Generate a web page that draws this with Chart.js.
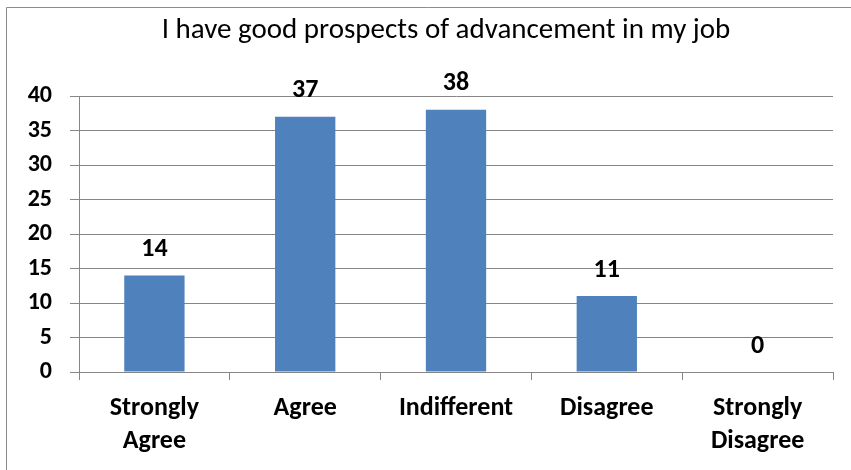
<!DOCTYPE html>
<html>
<head>
<meta charset="utf-8">
<script src="https://cdn.jsdelivr.net/npm/chart.js@4/dist/chart.umd.min.js"></script>
<style>
  html, body { margin: 0; padding: 0; background: #fff; }
  #wrap { width: 851px; height: 470px; }
</style>
</head>
<body>
<div id="wrap"><canvas id="chartCanvas" width="851" height="470"></canvas></div>
<script>
const titleText = "I have good prospects of advancement in my job";
const categories = [["Strongly", "Agree"], "Agree", "Indifferent", "Disagree", ["Strongly", "Disagree"]];
const responses = [14, 37, 38, 11, 0];
const yTicks = [0, 5, 10, 15, 20, 25, 30, 35, 40];

const FONT = "Carlito, Calibri, 'Liberation Sans', Arial, sans-serif";

// value labels above the bars
const barLabels = {
  id: "barLabels",
  afterDatasetsDraw(chart) {
    const ctx = chart.ctx;
    const meta = chart.getDatasetMeta(0);
    ctx.save();
    ctx.font = "bold 26px " + FONT;
    ctx.fillStyle = "#000";
    ctx.textAlign = "center";
    ctx.textBaseline = "middle";
    meta.data.forEach((bar, i) => {
      ctx.fillText(String(responses[i]), bar.x, bar.y - 26);
    });
    ctx.restore();
  },
};

// title + outer frame (frame only shows on top and left edges)
const decor = {
  id: "decor",
  afterDraw(chart) {
    const ctx = chart.ctx;
    ctx.save();
    ctx.strokeStyle = "#8c8c8c";
    ctx.lineWidth = 1;
    ctx.beginPath();
    ctx.moveTo(6.5, 470);
    ctx.lineTo(6.5, 7.5);
    ctx.lineTo(851, 7.5);
    ctx.stroke();
    ctx.font = "29px " + FONT;
    ctx.fillStyle = "#000";
    ctx.textAlign = "center";
    ctx.textBaseline = "alphabetic";
    ctx.fillText(titleText, 446, 38);
    ctx.restore();
  },
};

const ctx = document.getElementById("chartCanvas").getContext("2d");
new Chart(ctx, {
  type: "bar",
  data: {
    labels: categories,
    datasets: [
      {
        data: responses,
        backgroundColor: "#4F81BD",
        barPercentage: 0.8,
        categoryPercentage: 0.5,
      },
    ],
  },
  options: {
    responsive: false,
    animation: false,
    layout: { padding: { left: 10, right: 18, top: 96, bottom: 0 } },
    plugins: {
      legend: { display: false },
      tooltip: { enabled: false },
      title: { display: false },
    },
    scales: {
      x: {
        grid: {
          drawOnChartArea: false,
          drawTicks: true,
          tickLength: 8,
          tickColor: "#868686",
        },
        border: { display: true, color: "#868686" },
        ticks: {
          color: "#000",
          padding: 12,
          maxRotation: 0,
          autoSkip: false,
          font: { family: FONT, size: 26, weight: "bold", lineHeight: 1.27 },
        },
        afterFit(scale) {
          scale.height = 98;
        },
      },
      y: {
        min: 0,
        max: 40,
        afterBuildTicks(scale) {
          scale.ticks = yTicks.map((v) => ({ value: v }));
        },
        grid: {
          color: "#868686",
          drawTicks: true,
          tickLength: 9,
          tickColor: "#868686",
        },
        border: { display: true, color: "#868686" },
        ticks: {
          color: "#000",
          padding: 18,
          font: { family: FONT, size: 24, weight: "bold" },
        },
        afterFit(scale) {
          scale.width = 69;
        },
      },
    },
  },
  plugins: [barLabels, decor],
});
</script>
</body>
</html>
